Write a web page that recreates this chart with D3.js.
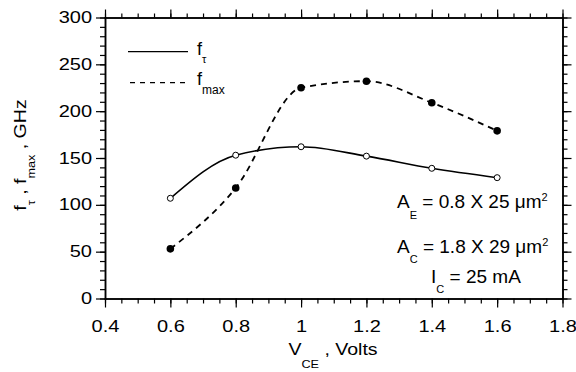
<!DOCTYPE html>
<html>
<head>
<meta charset="utf-8">
<script src="https://cdn.jsdelivr.net/npm/d3@7"></script>
<style>
  body { margin: 0; background: #fff; }
  svg text { font-family: "Liberation Sans", Arial, sans-serif; fill: #000; }
</style>
</head>
<body>
<svg id="chart" width="576" height="372"></svg>
<script>
// data
const vce = [0.6, 0.8, 1.0, 1.2, 1.4, 1.6];
const fT = [107, 153, 162, 152, 139, 129];
const fMax = [53, 118, 225, 232, 209, 179];

const xMajor = [0.4, 0.6, 0.8, 1, 1.2, 1.4, 1.6, 1.8];
const yMajor = [0, 50, 100, 150, 200, 250, 300];

const svg = d3.select('#chart');
const margin = { top: 17.5, right: 13.5, bottom: 73.5, left: 105 };
const width = 576 - margin.left - margin.right;
const height = 372 - margin.top - margin.bottom;

const x = d3.scaleLinear().domain([0.4, 1.8]).range([0, width]);
const y = d3.scaleLinear().domain([0, 300]).range([height, 0]);

const g = svg.append('g')
  .attr('transform', `translate(${margin.left},${margin.top})`);

// minor tick values
const xMinor = d3.range(0, 29).map(i => 0.4 + i * 0.05);
const yMinor = d3.range(0, 31).map(i => i * 10);

// tick labels in the original look wider than normal
const stretch = 1.25;

function styleAxis(sel) {
  sel.select('.domain').attr('stroke', '#000').attr('stroke-width', 1.5);
  sel.selectAll('.tick line').attr('stroke', '#000').attr('stroke-width', 1.2);
}

// bottom axis
g.append('g').attr('transform', `translate(0,${height})`)
  .call(d3.axisBottom(x).tickValues(xMinor).tickSize(5).tickFormat('').tickSizeOuter(0))
  .call(styleAxis);
g.append('g').attr('transform', `translate(0,${height})`)
  .call(d3.axisBottom(x).tickValues(xMajor).tickSize(9).tickPadding(13).tickFormat(d3.format('')).tickSizeOuter(0))
  .call(styleAxis)
  .call(a => a.selectAll('text').attr('font-size', 16).attr('transform', `scale(${stretch},1)`));

// top axis
g.append('g')
  .call(d3.axisTop(x).tickValues(xMinor).tickSize(4).tickFormat('').tickSizeOuter(0))
  .call(styleAxis);
g.append('g')
  .call(d3.axisTop(x).tickValues(xMajor).tickSize(8).tickFormat('').tickSizeOuter(0))
  .call(styleAxis);

// left axis
g.append('g')
  .call(d3.axisLeft(y).tickValues(yMinor).tickSize(5).tickFormat('').tickSizeOuter(0))
  .call(styleAxis);
g.append('g')
  .call(d3.axisLeft(y).tickValues(yMajor).tickSize(9).tickPadding(4).tickFormat(d3.format('')).tickSizeOuter(0))
  .call(styleAxis)
  .call(a => a.selectAll('text').attr('font-size', 16)
    .attr('x', -13 / stretch).attr('transform', `scale(${stretch},1)`));

// right axis
g.append('g').attr('transform', `translate(${width},0)`)
  .call(d3.axisRight(y).tickValues(yMinor).tickSize(5).tickFormat('').tickSizeOuter(0))
  .call(styleAxis);
g.append('g').attr('transform', `translate(${width},0)`)
  .call(d3.axisRight(y).tickValues(yMajor).tickSize(9).tickFormat('').tickSizeOuter(0))
  .call(styleAxis);

g.selectAll('.domain').attr('stroke-linecap', 'square');

// curves
const ftPts = vce.map((v, i) => [v, fT[i]]);
const fmPts = vce.map((v, i) => [v, fMax[i]]);
const line = d3.line().x(d => x(d[0])).y(d => y(d[1])).curve(d3.curveMonotoneX);

g.append('path').datum(ftPts).attr('d', line)
  .attr('fill', 'none').attr('stroke', '#000').attr('stroke-width', 1.6);
g.append('path').datum(fmPts).attr('d', line)
  .attr('fill', 'none').attr('stroke', '#000').attr('stroke-width', 1.8)
  .attr('stroke-dasharray', '6,5');

g.selectAll('.ft').data(ftPts).join('circle')
  .attr('cx', d => x(d[0])).attr('cy', d => y(d[1])).attr('r', 3)
  .attr('fill', '#fff').attr('stroke', '#000').attr('stroke-width', 1);
g.selectAll('.fm').data(fmPts).join('circle')
  .attr('cx', d => x(d[0])).attr('cy', d => y(d[1])).attr('r', 3.8)
  .attr('fill', '#000');

// legend
svg.append('line').attr('x1', 128).attr('x2', 188).attr('y1', 51.7).attr('y2', 51.7)
  .attr('stroke', '#000').attr('stroke-width', 1.3);
svg.append('line').attr('x1', 130).attr('x2', 190).attr('y1', 82.7).attr('y2', 82.7)
  .attr('stroke', '#000').attr('stroke-width', 1.3).attr('stroke-dasharray', '5,5');

// text with sub/superscripts; parts: {t, size, dy}
function richText(sel, parts, size) {
  parts.forEach(p => {
    const s = sel.append('tspan').text(p.t);
    if (p.size) s.attr('font-size', p.size);
    if (p.dy) s.attr('dy', p.dy);
  });
  return sel.attr('font-size', size);
}

richText(svg.append('text').attr('x', 197).attr('y', 55),
  [{ t: 'f' }, { t: 'τ', size: 11, dy: 8 }], 18);
richText(svg.append('text').attr('x', 197).attr('y', 85),
  [{ t: 'f' }, { t: 'max', size: 12, dy: 9 }], 18);

// annotations
richText(svg.append('text').attr('x', 397).attr('y', 208),
  [{ t: 'A' }, { t: 'E', size: 11, dy: 11 }, { t: ' = 0.8 X 25 μm', dy: -11 }, { t: '2', size: 11, dy: -7 }], 19);
richText(svg.append('text').attr('x', 397).attr('y', 253),
  [{ t: 'A' }, { t: 'C', size: 11, dy: 10 }, { t: ' = 1.8 X 29 μm', dy: -10 }, { t: '2', size: 11, dy: -7 }], 19);
richText(svg.append('text').attr('x', 431).attr('y', 283),
  [{ t: 'I' }, { t: 'C', size: 11, dy: 10 }, { t: ' = 25 mA', dy: -10 }], 19);

// x label
richText(svg.append('text').attr('text-anchor', 'middle')
  .attr('transform', 'translate(333,355) scale(1.15,1)'),
  [{ t: 'V' }, { t: 'CE', size: 11, dy: 13 }, { t: ' , Volts', dy: -13 }], 17);

// y label
richText(svg.append('text').attr('text-anchor', 'middle')
  .attr('transform', 'translate(26,155) rotate(-90) scale(1.15,1)'),
  [{ t: 'f' }, { t: 'τ', size: 11, dy: 9 }, { t: ' , f', dy: -9 }, { t: 'max', size: 11, dy: 9 }, { t: ' , GHz', dy: -9 }], 17);
</script>
</body>
</html>
